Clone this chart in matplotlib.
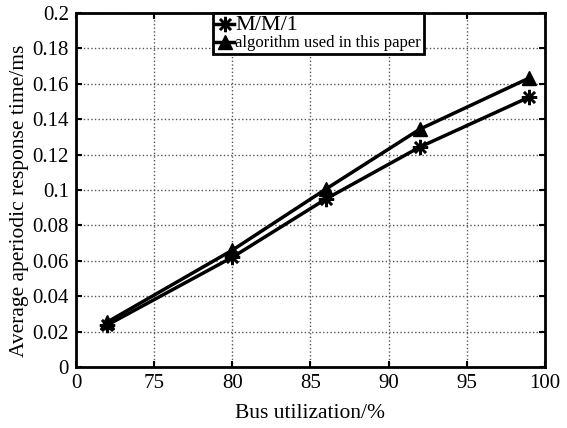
import matplotlib
matplotlib.use("Agg")
import matplotlib.pyplot as plt

utilization = [72, 80, 86, 92, 99]
mm1 = [0.0237, 0.062, 0.095, 0.1243, 0.1525]
proposed = [0.0254, 0.066, 0.1006, 0.1344, 0.1633]
xticks = [70, 75, 80, 85, 90, 95, 100]
xticklabels = ["0", "75", "80", "85", "90", "95", "100"]
yticks = [0, 0.02, 0.04, 0.06, 0.08, 0.1, 0.12, 0.14, 0.16, 0.18, 0.2]
yticklabels = ["0", "0.02", "0.04", "0.06", "0.08", "0.1", "0.12", "0.14", "0.16", "0.18", "0.2"]

plt.rcParams['font.family'] = ['Liberation Serif', 'DejaVu Serif']

fig = plt.figure(figsize=(5.67, 4.28), dpi=100)
ax = fig.add_axes([0.134, 0.1425, 0.827, 0.827])

ax.plot(utilization, mm1, color='black', lw=2.5, marker=(8, 2, 0), markersize=11,
        markeredgewidth=1.8, label='M/M/1')
ax.plot(utilization, proposed, color='black', lw=2.5, marker='^', markersize=10, label='algorithm used in this paper')

ax.set_xlim(70, 100)
ax.set_ylim(0, 0.2)
ax.set_xticks(xticks)
ax.set_xticklabels(xticklabels)
ax.set_yticks(yticks)
ax.set_yticklabels(yticklabels)
ax.tick_params(direction='in', top=True, right=True, labelsize=15, width=1.5, length=4, pad=5)
ax.grid(True, linestyle=':', color='#555555', lw=1.0)
for s in ax.spines.values():
    s.set_linewidth(2)

ax.set_xlabel('Bus utilization/%', fontsize=15.5, labelpad=8)
ax.set_ylabel('Average aperiodic response time/ms', fontsize=15.5)
ax.yaxis.set_label_coords(-0.10, 0.47)

leg = ax.legend(loc='upper left', bbox_to_anchor=(0.292, 1.0), fancybox=False, framealpha=1,
                edgecolor='black', borderpad=0.15, labelspacing=0.05, handlelength=1.1,
                handletextpad=0.1, borderaxespad=0.0, fontsize=12)
leg.get_frame().set_linewidth(2)
texts = leg.get_texts()
texts[0].set_fontsize(16)
texts[1].set_fontsize(12)

fig.savefig('out.png', dpi=100)
